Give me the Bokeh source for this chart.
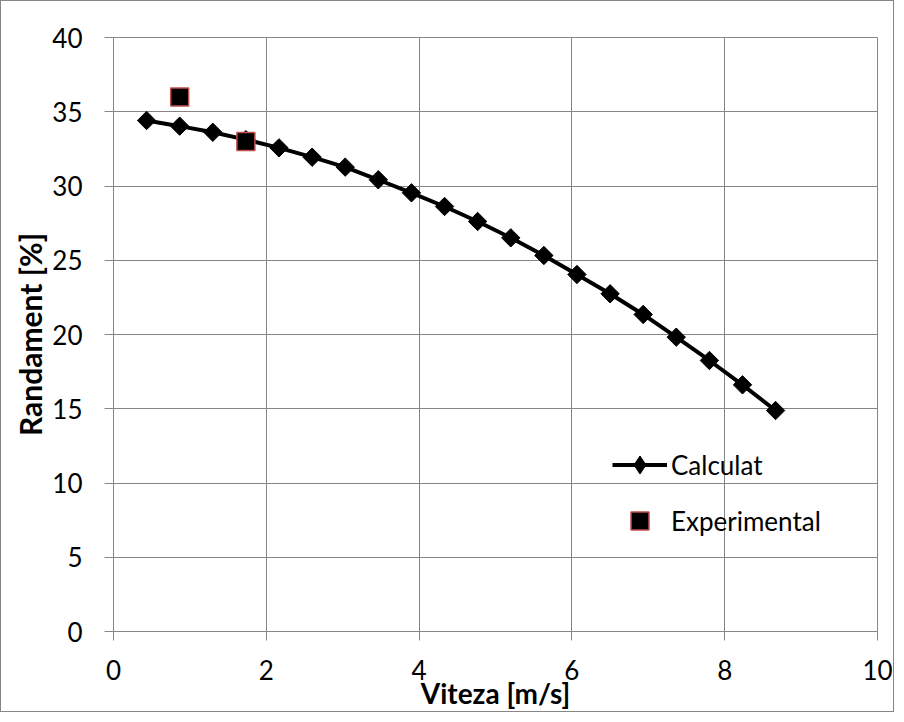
import numpy as np
from bokeh.plotting import figure
from bokeh.models import Legend, LegendItem, Range1d
from bokeh.embed import file_html
from bokeh.resources import INLINE

# Data
viteza_calc = [0.433, 0.866, 1.3, 1.733, 2.166, 2.6, 3.033, 3.466, 3.9, 4.333,
               4.766, 5.2, 5.633, 6.066, 6.5, 6.933, 7.366, 7.8, 8.233, 8.666]
randament_calc = [34.41, 34.03, 33.62, 33.12, 32.57, 31.94, 31.27, 30.42, 29.54, 28.62,
                  27.61, 26.51, 25.32, 24.04, 22.74, 21.35, 19.82, 18.25, 16.61, 14.88]
viteza_exp = [0.866, 1.733]
randament_exp = [36.0, 33.0]
x_ticks = [0, 2, 4, 6, 8, 10]
y_ticks = [0, 5, 10, 15, 20, 25, 30, 35, 40]

FONT = "Lato"
GRID = "#868686"

p = figure(width=894, height=712, output_backend="svg", toolbar_location=None,
           x_range=Range1d(0, 10), y_range=Range1d(0, 40),
           min_border_left=112, min_border_right=18, min_border_top=36, min_border_bottom=82)
p.styles = {"border": "1px solid #868686"}

p.outline_line_color = GRID
p.background_fill_color = "white"
p.border_fill_color = "white"

p.xaxis.ticker = x_ticks
p.yaxis.ticker = y_ticks
p.xgrid.ticker = x_ticks
p.ygrid.ticker = y_ticks
p.grid.grid_line_color = GRID
p.grid.grid_line_width = 1

for ax in (p.xaxis[0], p.yaxis[0]):
    ax.axis_line_color = GRID
    ax.major_tick_line_color = GRID
    ax.major_tick_out = 9
    ax.major_tick_in = 0
    ax.minor_tick_line_color = None
    ax.major_label_text_font = FONT
    ax.major_label_text_font_size = "26px"
    ax.major_label_text_color = "black"
    ax.axis_label_text_font = FONT
    ax.axis_label_text_font_style = "bold"
    ax.axis_label_text_color = "black"
    ax.axis_label_text_line_height = 1.0

p.xaxis.axis_label = "Viteza [m/s]"
p.yaxis.axis_label = "Randament [%]"
p.xaxis.axis_label_text_font_size = "28px"
p.yaxis.axis_label_text_font_size = "30px"
p.xaxis.major_label_standoff = 19
p.xaxis.axis_label_standoff = -7
p.yaxis.major_label_standoff = 22
p.yaxis.axis_label_standoff = 1

r_line = p.line(viteza_calc, randament_calc, line_color="black", line_width=4)
# narrow diamond (hidden under the rotated squares) used for the legend symbol
r_leg = p.scatter(viteza_calc, randament_calc, marker="diamond", size=12,
                  fill_color="black", line_color="black")
r_dia = p.scatter(viteza_calc, randament_calc, marker="square", angle=np.pi / 4, size=13,
                  fill_color="black", line_color="black", line_width=1)
r_exp = p.scatter(viteza_exp, randament_exp, marker="square", size=18,
                  fill_color="black", line_color="#C0504D", line_width=1.5)

legend = Legend(items=[LegendItem(label="Calculat", renderers=[r_line, r_leg]),
                       LegendItem(label="Experimental", renderers=[r_exp])],
                location=(499, 88), padding=0, margin=0, spacing=11,
                glyph_width=55, glyph_height=45, label_height=45, label_standoff=4,
                border_line_color=None, background_fill_alpha=0,
                label_text_font=FONT, label_text_font_size="26px", label_text_color="black")
p.add_layout(legend)

open("out.html", "w").write(file_html(p, INLINE))
